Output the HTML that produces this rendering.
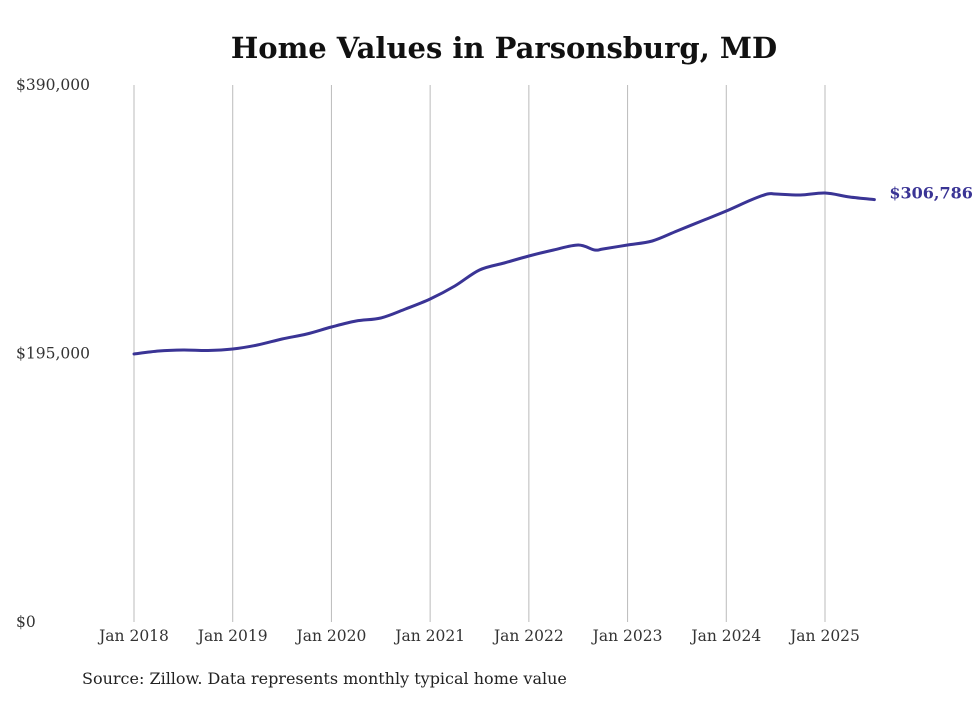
<!DOCTYPE html>
<html><head><meta charset="utf-8"><style>
html,body{margin:0;padding:0;background:#fff;}
body{width:980px;height:699px;overflow:hidden;font-family:"DejaVu Serif","Liberation Serif",serif;}
</style></head><body>
<svg id="chart" width="980" height="699" xmlns="http://www.w3.org/2000/svg">
<text x="504" y="58" text-anchor="middle" font-family="DejaVu Serif, Liberation Serif, serif" font-weight="bold" font-size="29" fill="#111">Home Values in Parsonsburg, MD</text>
<g id="grid"></g><g id="axes"></g><g id="series"></g>
<text x="82" y="684" font-family="DejaVu Serif, Liberation Serif, serif" font-size="16" fill="#222">Source: Zillow. Data represents monthly typical home value</text>
</svg>
<script>
const months=[0,3,6,9,12,15,18,21,24,27,30,33,36,39,42,45,48,51,54,56,57,60,63,66,69,72,75,77,78,81,84,87,90];
const values=[194638,196816,197543,197180,198269,201174,205531,209163,214247,218604,220783,227319,234582,244023,255644,260727,265811,270169,273800,270169,270900,273800,276705,283968,291230,298493,306482,310839,310839,310113,311565,308660,306786];
const yTicks=[0,195000,390000];
const yTickLabels=["$0","$195,000","$390,000"];
const xTickYears=[2018,2019,2020,2021,2022,2023,2024,2025];
const lastLabel="$306,786";
const NS="http://www.w3.org/2000/svg";
const x=m=>134+m*(691/84);
const y=v=>622-v*(537/390000);
function mk(tag,attrs,parent){const e=document.createElementNS(NS,tag);for(const k in attrs)e.setAttribute(k,attrs[k]);parent.appendChild(e);return e;}
const grid=document.getElementById('grid'),axes=document.getElementById('axes'),series=document.getElementById('series');
xTickYears.forEach((yr,i)=>{
  const gx=x(i*12);
  const l=mk('line',{x1:gx,x2:gx,y1:85,y2:622,stroke:'#bbb','stroke-width':1},grid);
  
  
  const t=mk('text',{x:gx,y:641,'text-anchor':'middle','font-size':15.5,fill:'#333'},axes);
  t.textContent='Jan '+yr;
  
  
});
yTicks.forEach((v,i)=>{
  const t=mk('text',{x:16,y:y(v)+5,'font-size':15.5,fill:'#333'},axes);
  t.textContent=yTickLabels[i];
  
  
});
const pts=months.map((m,i)=>[x(m),y(values[i])]);
let d='M'+pts[0][0]+','+pts[0][1];
for(let i=0;i<pts.length-1;i++){
  const p0=pts[i-1]||pts[i],p1=pts[i],p2=pts[i+1],p3=pts[i+2]||p2;
  const c1=[p1[0]+(p2[0]-p0[0])/6,p1[1]+(p2[1]-p0[1])/6];
  const c2=[p2[0]-(p3[0]-p1[0])/6,p2[1]-(p3[1]-p1[1])/6];
  d+=' C'+c1+' '+c2+' '+p2;
}
const path=mk('path',{d:d,fill:'none',stroke:'#3a3495','stroke-width':3,'stroke-linejoin':'round','stroke-linecap':'round'},series);


const lp=pts[pts.length-1];
const lt=mk('text',{x:lp[0]+15,y:lp[1]-1,'font-size':16,'font-weight':'bold',fill:'#3a3495'},series);
lt.textContent=lastLabel;


</script>
</body></html>
